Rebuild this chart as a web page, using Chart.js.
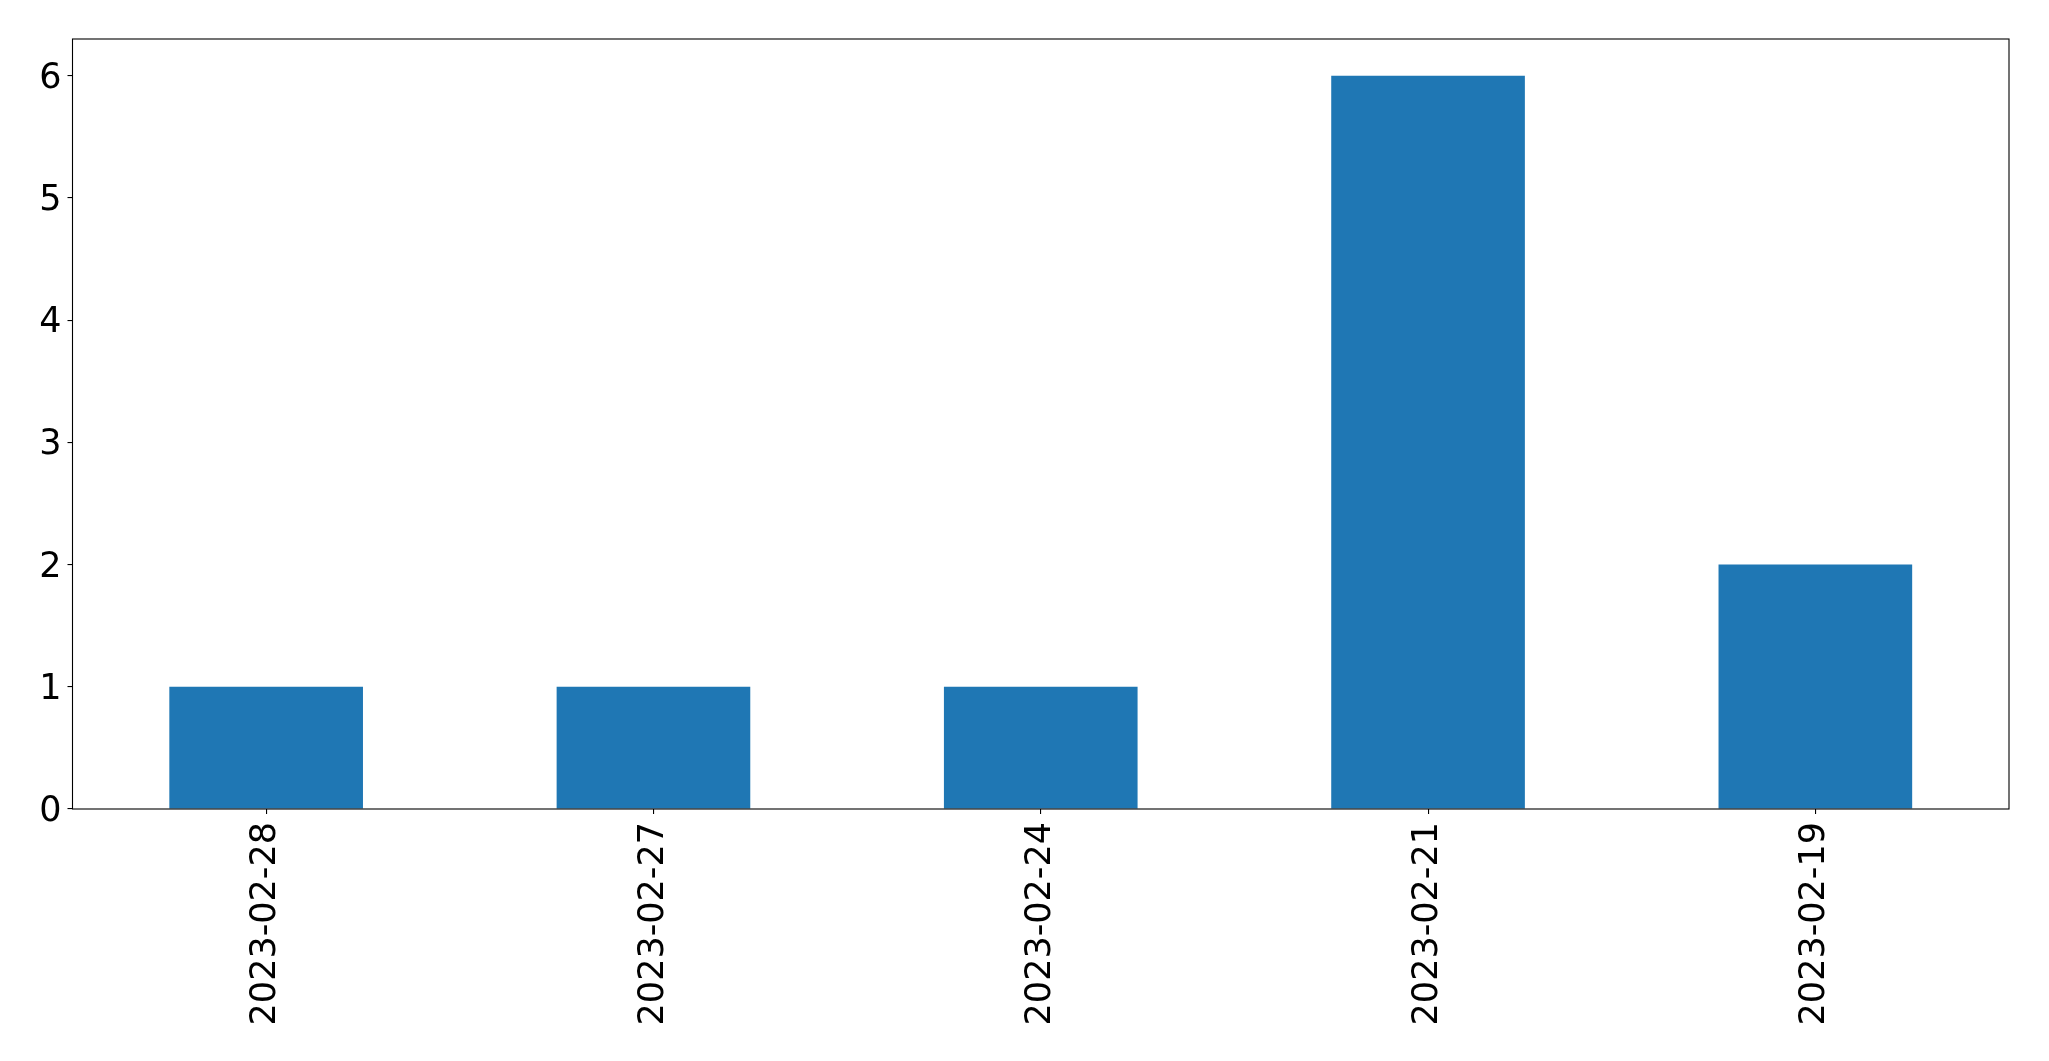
<!DOCTYPE html>
<html>
<head>
<meta charset="utf-8">
<script src="https://cdn.jsdelivr.net/npm/chart.js@4.4.0/dist/chart.umd.min.js"></script>
<style>
  html, body { margin: 0; padding: 0; background: #fff; }
  #wrap { width: 2049px; height: 1061px; }
</style>
</head>
<body>
<div id="wrap"><canvas id="chart" width="2049" height="1061"></canvas></div>
<script>
const dates = ['2023-02-28', '2023-02-27', '2023-02-24', '2023-02-21', '2023-02-19']
const counts = [1, 1, 1, 6, 2]
const yTicks = [0, 1, 2, 3, 4, 5, 6]

// frame round the plot area, like the matplotlib spines
const frame = {
    id: 'frame',
    afterDatasetsDraw(chart) {
        const { ctx, chartArea: a } = chart
        ctx.save()
        ctx.strokeStyle = '#000'
        ctx.lineWidth = 1.1
        ctx.strokeRect(a.left, a.top, a.right - a.left, a.bottom - a.top)
        ctx.restore()
    }
}

const font = { family: 'DejaVu Sans', size: 35 }

new Chart(document.getElementById('chart').getContext('2d'), {
    type: 'bar',
    data: {
        labels: dates,
        datasets: [{
            data: counts,
            backgroundColor: '#1f77b4',
            categoryPercentage: 0.5,
            barPercentage: 1.0,
        }]
    },
    options: {
        responsive: false,
        animation: false,
        layout: { padding: { top: 39, right: 40, left: 0, bottom: 0 } },
        plugins: { legend: { display: false }, tooltip: { enabled: false } },
        scales: {
            x: {
                offset: true,
                grid: { offset: false, drawOnChartArea: false, drawTicks: true, tickLength: 5, color: '#000', lineWidth: 1.1 },
                border: { display: false },
                ticks: { color: '#000', font, minRotation: 90, maxRotation: 90, padding: 8, autoSkip: false },
                afterFit(s) { s.height = 252 }
            },
            y: {
                min: 0,
                max: 6.3,
                grid: { drawOnChartArea: false, drawTicks: true, tickLength: 5, color: '#000', lineWidth: 1.1 },
                border: { display: false },
                ticks: { color: '#000', font, stepSize: 1, includeBounds: false, padding: 6, labelOffset: 3 },
                afterBuildTicks(s) { s.ticks = yTicks.map(v => ({ value: v })) },
                afterFit(s) { s.width = 72.5 }
            }
        }
    },
    plugins: [frame]
})
</script>
</body>
</html>
